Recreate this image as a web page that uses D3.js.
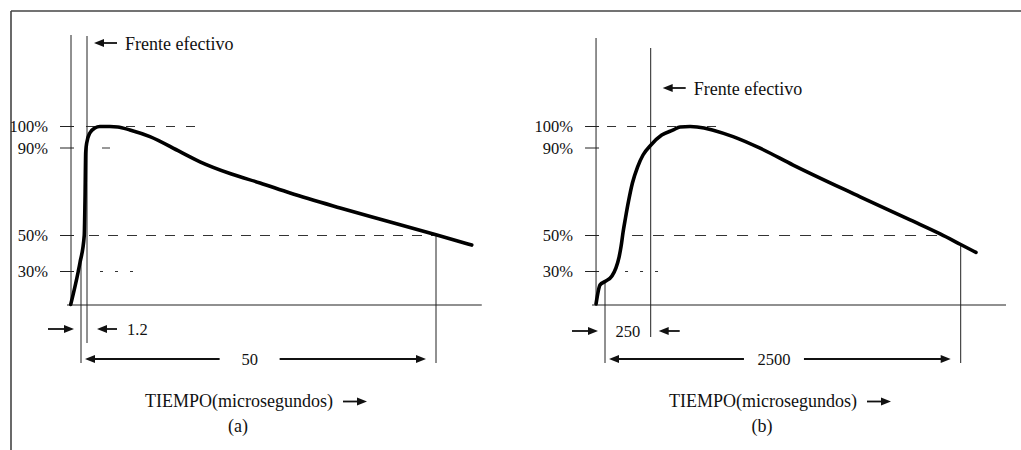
<!DOCTYPE html>
<html><head><meta charset="utf-8">
<script src="https://cdn.jsdelivr.net/npm/d3@7"></script>
<style>html,body{margin:0;padding:0;background:#fff;} svg{display:block;}</style>
</head><body><svg id="chart" width="1021" height="450"></svg>
<script>
// ---------- data ----------
const percentTicks = [100, 90, 50, 30];
const percentLabels = ["100%", "90%", "50%", "30%"];

// panel (a): time in microseconds, value in percent of crest
const timeA = [-2.05, -0.55, -0.2, 0.65, 0.8, 0.94, 1.14, 1.6, 2.3, 3.0, 4.4, 5.5, 7.2, 10.0, 14.2, 17.0, 21.4, 25.4, 29.6, 36.6, 43.6, 50, 55];
const pctA  = [0.5, 30, 35, 50, 66, 88, 92.3, 97, 99.3, 100, 100, 99.8, 98.4, 95.3, 88.3, 83.7, 78.1, 74.0, 69.4, 62.6, 56.2, 50.3, 44.7];

// panel (b)
const timeB = [-49, -27, 0, 38, 60, 77, 88, 99, 112, 129, 150, 178, 208, 250, 330, 414, 463, 536, 587, 848, 1044, 1284, 1770, 2133, 2351, 2500, 2611];
const pctB  = [1, 18, 21, 26, 32, 38, 44, 51.6, 58, 65.8, 74, 81.3, 86.8, 91.3, 96, 98.4, 99.8, 100, 99.8, 95.3, 89.9, 82.2, 67.7, 57.1, 50.7, 45.0, 40.6];

const markersA = [0, 1.2, 50];      // virtual origin, front time, tail time
const markersB = [0, 250, 2500];
const dimLabelsA = ["1.2", "50"];
const dimLabelsB = ["250", "2500"];
const axisTimesA = [-2, 56.4];
const axisTimesB = [-49, 2829];

const frontText = "Frente efectivo";
const xTitle = "TIEMPO(microsegundos)";
const panelTags = ["(a)", "(b)"];

// ---------- layout ----------
const svg = d3.select("#chart");
const FONT = "'Liberation Serif','Times New Roman',serif";
const INK = "#111";

// schematic (not-to-scale) percent axis shared by both panels
const y = d3.scaleLinear().domain([0, 30, 50, 90, 100]).range([305, 271.5, 235.5, 148, 126.5]);

// frame
svg.append("line").attr("x1", 11).attr("y1", 11).attr("x2", 1021).attr("y2", 11)
  .attr("stroke", "#444").attr("stroke-width", 1.6);
svg.append("line").attr("x1", 11).attr("y1", 11).attr("x2", 11).attr("y2", 450)
  .attr("stroke", "#444").attr("stroke-width", 1.6);

function seg(g, x1, y1, x2, y2, opts = {}) {
  return g.append("line").attr("x1", x1).attr("y1", y1).attr("x2", x2).attr("y2", y2)
    .attr("stroke", opts.color || INK).attr("stroke-width", opts.w || 1)
    .attr("stroke-dasharray", opts.dash || null);
}
function arrow(g, xTail, xHead, yy) {
  const dir = Math.sign(xHead - xTail);
  seg(g, xTail, yy, xHead - dir * 6, yy, { w: 1.8 });
  g.append("path")
    .attr("d", `M${xHead},${yy} L${xHead - dir * 10},${yy - 4} L${xHead - dir * 10},${yy + 4} Z`)
    .attr("fill", INK);
}
function txt(g, xx, yy, s, size, anchor) {
  return g.append("text").attr("x", xx).attr("y", yy).text(s)
    .attr("font-family", FONT).attr("font-size", size).attr("fill", INK)
    .attr("text-anchor", anchor || "start");
}

const panels = [
  { time: timeA, pct: pctA, markers: markersA, dims: dimLabelsA, axisTimes: axisTimesA,
    xRange: [81, 87, 436], axisTop: 35, frontTop: 36, frontBottom: 343,
    frontArrowY: 43, frontHead: 7, dimRow1: "after",
    guides: [
      { v: 100, x0: 15, x1: 128, dash: "9,11" },
      { v: 90, x0: 31, x1: 39, dash: null },
      { v: 50, x0: 18, x1: null, dash: "10,9" },
      { v: 30, x0: 29, x1: 64, dash: "3,12" }
    ],
    tag: panelTags[0] },
  { time: timeB, pct: pctB, markers: markersB, dims: dimLabelsB, axisTimes: axisTimesB,
    xRange: [605, 650.7, 960.7], axisTop: 38, frontTop: 48, frontBottom: 337,
    frontArrowY: 88, frontHead: 12, dimRow1: "between",
    guides: [
      { v: 100, x0: 11, x1: 127, dash: "9,11" },
      { v: 50, x0: 36, x1: 344, dash: "11,10" },
      { v: 30, x0: 29, x1: 62, dash: "3,12" }
    ],
    tag: panelTags[1] }
];

panels.forEach(p => {
  const g = svg.append("g");
  const x = d3.scaleLinear().domain(p.markers).range(p.xRange);
  const ax = x(p.axisTimes[0]);
  const curveAt = d3.scaleLinear().domain(p.time).range(p.pct);
  const [t0, tf, tt] = p.markers;

  // axes
  seg(g, ax, p.axisTop, ax, y(0), { color: "#222" });
  seg(g, ax - 4, y(0), x(p.axisTimes[1]), y(0), { color: "#222", w: 1.2 });

  // ticks + labels
  percentTicks.forEach((v, i) => {
    seg(g, ax - 11, y(v), ax + 3, y(v), { color: "#222" });
    txt(g, ax - 23, y(v) + 5.5, percentLabels[i], 16.5, "end");
  });

  // guide lines
  p.guides.forEach(gd => {
    const x1 = gd.x1 === null ? x(tt) : ax + gd.x1;
    seg(g, ax + gd.x0, y(gd.v), x1, y(gd.v), { color: "#333", dash: gd.dash });
  });

  // marker verticals
  seg(g, x(t0), y(curveAt(t0)), x(t0), 363, { color: "#222" });
  seg(g, x(tf), p.frontTop, x(tf), p.frontBottom, { color: "#222" });
  seg(g, x(tt), y(curveAt(tt)), x(tt), 363, { color: "#222" });

  // curve
  const pts = p.time.map((t, i) => [t, p.pct[i]]);
  g.append("path").datum(pts)
    .attr("d", d3.line().x(d => x(d[0])).y(d => y(d[1])).curve(d3.curveMonotoneX))
    .attr("fill", "none").attr("stroke", "#000").attr("stroke-width", 3.6)
    .attr("stroke-linecap", "round").attr("stroke-linejoin", "round");

  // "Frente efectivo"
  const fh = x(tf) + p.frontHead;
  arrow(g, fh + 23, fh, p.frontArrowY);
  txt(g, fh + 31, p.frontArrowY + 7, frontText, 18);

  // dimension row 1 (front time)
  const r1 = p.dimRow1 === "after" ? 329 : 331;
  arrow(g, x(t0) - 33, x(t0) - 7, r1);
  if (p.dimRow1 === "after") {
    arrow(g, x(tf) + 30, x(tf) + 10, r1);
    txt(g, x(tf) + 40, r1 + 6, p.dims[0], 16.5);
  } else {
    txt(g, (x(t0) + x(tf)) / 2, r1 + 6, p.dims[0], 16.5, "middle");
    arrow(g, x(tf) + 29, x(tf) + 8, r1);
  }

  // dimension row 2 (tail time)
  const r2 = 359;
  const cx = x(t0) + 0.475 * (x(tt) - x(t0));
  arrow(g, cx - 30, x(t0) + 4, r2);
  arrow(g, cx + 30, x(tt) - 10, r2);
  txt(g, cx, r2 + 6, p.dims[1], 16.5, "middle");

  // axis title + tag
  txt(g, x(t0) + 64, 406.5, xTitle, 18);
  arrow(g, x(t0) + 262, x(t0) + 286, 401.5);
  txt(g, x(t0) + 157, 432, p.tag, 18, "middle");
});
</script></body></html>
